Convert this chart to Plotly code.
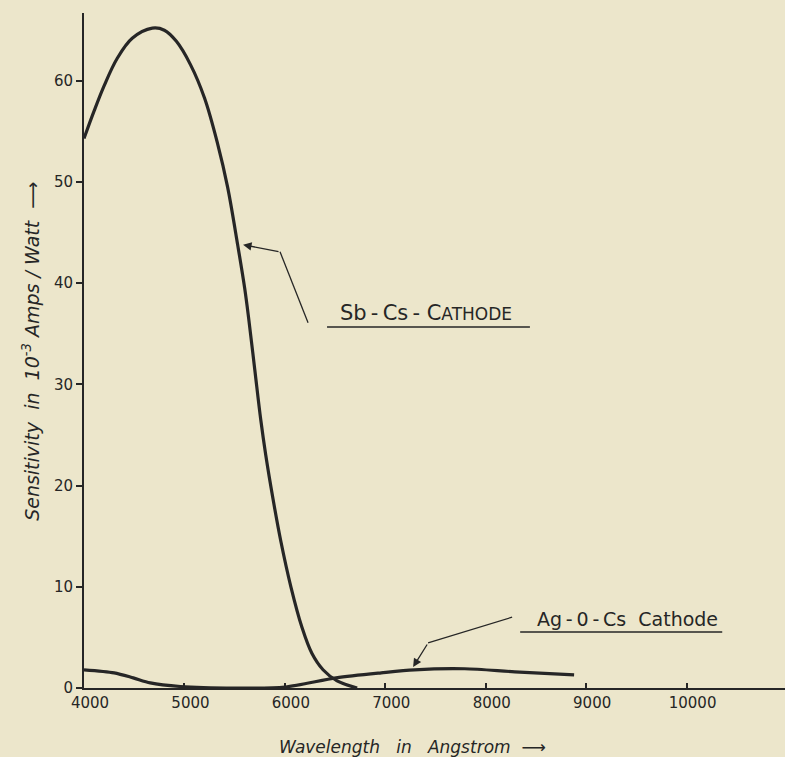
import plotly.graph_objects as go

# Sb-Cs cathode sensitivity (10^-3 A/W) vs wavelength (Angstrom)
sb_wl = [4000, 4100, 4200, 4330, 4480, 4680, 4800, 4920, 5060, 5200, 5330, 5430,
         5530, 5600, 5640, 5700, 5760, 5810, 5880, 5960, 6060, 6170, 6270, 6380, 6520, 6720]
sb_val = [54.3, 57.0, 59.5, 62.2, 64.2, 65.2, 65.0, 63.9, 61.6, 58.3, 53.8, 49.5,
          43.8, 39.5, 36.5, 31.5, 26.5, 23.0, 18.8, 14.5, 10.0, 6.0, 3.4, 1.8, 0.7, 0.0]

# Ag-O-Cs cathode
ag_wl = [4000, 4300, 4490, 4660, 4960, 5500, 6000, 6510, 6960, 7290, 7790, 8290, 8880]
ag_val = [1.8, 1.5, 1.0, 0.5, 0.15, 0.0, 0.1, 1.0, 1.5, 1.8, 1.9, 1.6, 1.3]

x_ticks = [4000, 5000, 6000, 7000, 8000, 9000, 10000]
y_ticks = [0, 10, 20, 30, 40, 50, 60]

BG = "#ECE6CB"
INK = "#262626"
FONT = "DejaVu Sans"

fig = go.Figure()
fig.add_trace(go.Scatter(x=sb_wl, y=sb_val, mode="lines",
                         line=dict(color=INK, width=3.2, shape="spline", smoothing=1.0),
                         cliponaxis=False, showlegend=False, hoverinfo="skip"))
fig.add_trace(go.Scatter(x=ag_wl, y=ag_val, mode="lines",
                         line=dict(color=INK, width=3.2, shape="spline", smoothing=0.8),
                         cliponaxis=False, showlegend=False, hoverinfo="skip"))

# Labels
fig.add_annotation(x=7406, y=37.05, xref="x", yref="y", showarrow=False,
                   xanchor="center", yanchor="middle",
                   text="Sb\u2009-\u2009Cs\u2009-\u00a0C<span style='font-size:17px'>ATHODE</span>",
                   font=dict(family=FONT, size=21, color=INK))
fig.add_annotation(x=9408, y=6.8, xref="x", yref="y", showarrow=False,
                   xanchor="center", yanchor="middle",
                   text="Ag\u2009-\u20090\u2009-\u2009Cs\u00a0\u00a0Cathode",
                   font=dict(family=FONT, size=19, color=INK))

# underlines
fig.add_shape(type="line", x0=6420, x1=8440, y0=35.67, y1=35.67, xref="x", yref="y",
              line=dict(color=INK, width=1.6))
fig.add_shape(type="line", x0=8343, x1=10355, y0=5.53, y1=5.53, xref="x", yref="y",
              line=dict(color=INK, width=1.6))

# pointer arrows (polyline + arrowhead)
fig.add_shape(type="line", x0=6231, y0=36.1, x1=5952, y1=43.1, xref="x", yref="y",
              line=dict(color=INK, width=1.3))
fig.add_annotation(x=5584, y=43.8, ax=5952, ay=43.1, xref="x", yref="y", axref="x", ayref="y",
                   showarrow=True, arrowhead=2, arrowsize=1.3, arrowwidth=1.3, arrowcolor=INK, text="")
fig.add_shape(type="line", x0=8263, y0=7.0, x1=7426, y1=4.45, xref="x", yref="y",
              line=dict(color=INK, width=1.3))
fig.add_annotation(x=7277, y=2.07, ax=7426, ay=4.45, xref="x", yref="y", axref="x", ayref="y",
                   showarrow=True, arrowhead=2, arrowsize=1.3, arrowwidth=1.3, arrowcolor=INK, text="")

# axis titles
fig.add_annotation(x=-0.0756, y=0.498, xref="paper", yref="paper", showarrow=False, textangle=-90,
                   xanchor="center", yanchor="middle",
                   text="<i>Sensitivity\u00a0\u00a0in\u00a0\u00a010<sup>-3</sup>\u00a0Amps\u00a0/\u00a0Watt\u00a0\u00a0\u27f6</i>",
                   font=dict(family=FONT, size=19, color=INK))
fig.add_annotation(x=0.469, y=-0.0874, xref="paper", yref="paper", showarrow=False,
                   xanchor="center", yanchor="middle",
                   text="<i>Wavelength\u00a0\u00a0\u00a0in\u00a0\u00a0\u00a0Angstrom\u00a0\u00a0\u27f6</i>",
                   font=dict(family=FONT, size=17, color=INK))

fig.update_xaxes(range=[4000, 10980], tickvals=x_ticks, ticktext=[str(v) for v in x_ticks],
                 showgrid=False, zeroline=False, showline=True, linecolor=INK, linewidth=2,
                 ticks="inside", ticklen=5, tickwidth=2, tickcolor=INK, ticklabelshift=6,
                 tickfont=dict(family=FONT, size=15, color=INK))
fig.update_yaxes(range=[0, 66.7], tickvals=y_ticks, ticktext=[str(v) for v in y_ticks],
                 showgrid=False, zeroline=False, showline=True, linecolor=INK, linewidth=2,
                 ticks="outside", ticklen=6, tickwidth=2, tickcolor=INK,
                 tickfont=dict(family=FONT, size=15, color=INK))

fig.update_layout(width=785, height=757, margin=dict(l=84, r=0, t=13, b=69),
                  paper_bgcolor=BG, plot_bgcolor=BG)

fig.write_html("out.html", config={"displayModeBar": False},
               post_script="document.body.style.margin='0px';document.body.style.background='%s';" % BG)
